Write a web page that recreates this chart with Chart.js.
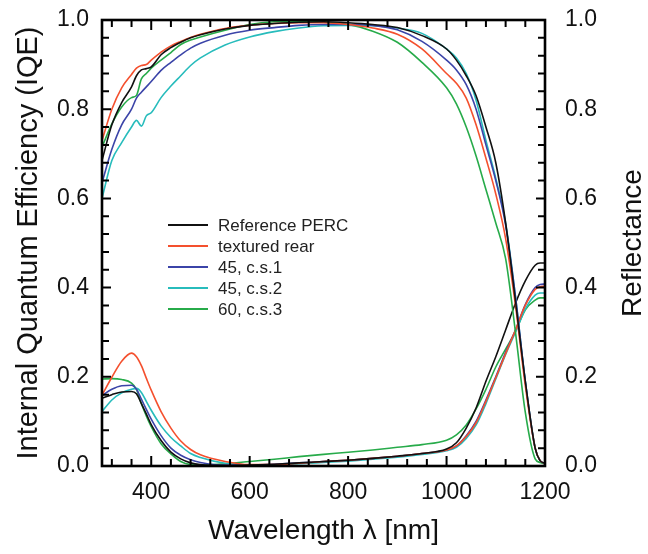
<!DOCTYPE html>
<html>
<head>
<meta charset="utf-8">
<script src="https://cdn.jsdelivr.net/npm/chart.js@4.4.1/dist/chart.umd.min.js"></script>
<style>
  html, body { margin: 0; padding: 0; background: #fff; }
  #wrap { width: 648px; height: 554px; }
</style>
</head>
<body>
<div id="wrap"><canvas id="iqeChart" width="648" height="554"></canvas></div>
<script>
// wavelength grid (nm)
const wavelength = [300,320,340,360,370,380,390,400,420,440,460,480,500,550,600,650,700,750,800,850,900,950,1000,1020,1040,1060,1080,1100,1120,1140,1160,1180,1190,1200];

const seriesNames = ["Reference PERC", "textured rear", "45, c.s.1", "45, c.s.2", "60, c.s.3"];
const seriesColors = ["#111111", "#f4502e", "#3b44a8", "#27bcbc", "#27ab4a"];

// internal quantum efficiency
const iqeRefPerc  = [0.685,0.765,0.815,0.85,0.875,0.888,0.891,0.895,0.922,0.938,0.95,0.96,0.967,0.98,0.988,0.992,0.995,0.996,0.994,0.99,0.983,0.965,0.935,0.91,0.875,0.83,0.76,0.68,0.545,0.37,0.19,0.04,0.012,0.006];
const iqeTextured = [0.73,0.8,0.848,0.878,0.892,0.898,0.9,0.91,0.928,0.942,0.952,0.961,0.968,0.981,0.988,0.992,0.994,0.994,0.99,0.982,0.968,0.935,0.88,0.858,0.825,0.765,0.69,0.61,0.51,0.36,0.18,0.04,0.012,0.006];
const iqe45cs1    = [0.635,0.71,0.765,0.8,0.825,0.838,0.85,0.862,0.887,0.905,0.922,0.937,0.948,0.966,0.977,0.983,0.988,0.99,0.99,0.988,0.978,0.952,0.91,0.888,0.855,0.8,0.72,0.64,0.54,0.38,0.19,0.04,0.012,0.006];
const iqe45cs2    = [0.6,0.685,0.725,0.76,0.775,0.762,0.785,0.792,0.826,0.852,0.875,0.898,0.915,0.944,0.962,0.974,0.982,0.987,0.988,0.987,0.982,0.97,0.935,0.915,0.88,0.82,0.73,0.645,0.545,0.38,0.19,0.04,0.012,0.006];
const iqe60cs3    = [0.715,0.767,0.805,0.826,0.831,0.868,0.88,0.892,0.91,0.927,0.945,0.955,0.962,0.977,0.99,0.996,0.997,0.995,0.99,0.975,0.95,0.905,0.848,0.812,0.76,0.695,0.62,0.545,0.465,0.3,0.12,0.016,0.008,0.005];

// reflectance
const refRefPerc  = [0.152,0.16,0.166,0.167,0.162,0.14,0.117,0.093,0.057,0.031,0.016,0.007,0.003,0.001,0.002,0.004,0.007,0.01,0.013,0.017,0.022,0.028,0.038,0.052,0.085,0.13,0.19,0.245,0.305,0.365,0.415,0.45,0.455,0.455];
const refTextured = [0.159,0.199,0.235,0.253,0.245,0.225,0.197,0.17,0.122,0.085,0.056,0.037,0.025,0.01,0.003,0.003,0.006,0.01,0.013,0.017,0.022,0.028,0.036,0.045,0.066,0.097,0.145,0.198,0.252,0.305,0.36,0.396,0.402,0.403];
const ref45cs1    = [0.158,0.172,0.18,0.181,0.172,0.15,0.127,0.105,0.068,0.04,0.024,0.014,0.008,0.002,0.002,0.004,0.007,0.01,0.013,0.017,0.022,0.028,0.036,0.045,0.068,0.1,0.148,0.2,0.255,0.305,0.362,0.4,0.407,0.408];
const ref45cs2    = [0.122,0.148,0.164,0.172,0.174,0.165,0.145,0.125,0.09,0.064,0.045,0.028,0.019,0.006,0.002,0.002,0.005,0.008,0.011,0.015,0.02,0.026,0.034,0.042,0.062,0.092,0.14,0.195,0.25,0.3,0.352,0.383,0.388,0.388];
const ref60cs3    = [0.195,0.196,0.194,0.186,0.172,0.14,0.112,0.088,0.05,0.027,0.01,0.003,0.002,0.005,0.01,0.015,0.021,0.026,0.031,0.036,0.042,0.048,0.058,0.07,0.092,0.128,0.172,0.222,0.262,0.302,0.35,0.372,0.377,0.377];

const xTickValues = [];
for (let v = 320; v <= 1200; v += 40) xTickValues.push(v);
const yTickValues = [];
for (let i = 0; i <= 25; i++) yTickValues.push(Math.round(i * 4) / 100);

const iqeSets = [iqeRefPerc, iqeTextured, iqe45cs1, iqe45cs2, iqe60cs3];
const refSets = [refRefPerc, refTextured, ref45cs1, ref45cs2, ref60cs3];

const toPoints = arr => wavelength.map((w, i) => ({ x: w, y: arr[i] }));

const datasets = [];
iqeSets.forEach((arr, i) => {
  datasets.push({
    label: seriesNames[i], data: toPoints(arr), yAxisID: "y",
    borderColor: seriesColors[i], borderWidth: 1.6, pointRadius: 0,
    cubicInterpolationMode: "monotone", fill: false
  });
});
refSets.forEach((arr, i) => {
  datasets.push({
    label: seriesNames[i] + " (R)", data: toPoints(arr), yAxisID: "y1",
    borderColor: seriesColors[i], borderWidth: 1.6, pointRadius: 0,
    cubicInterpolationMode: "monotone", fill: false
  });
});

const FONT = '"Liberation Sans", Arial, Helvetica, sans-serif';

// frame + inward ticks on all four sides
const frameTicks = {
  id: "frameTicks",
  afterDatasetsDraw(chart) {
    const { ctx, chartArea: a, scales } = chart;
    ctx.save();
    ctx.strokeStyle = "#000";
    ctx.lineWidth = 2;
    ctx.beginPath();
    scales.x.ticks.forEach(t => {
      const px = scales.x.getPixelForValue(t.value);
      const len = t.value % 200 === 0 ? 10 : 7;
      ctx.moveTo(px, a.bottom); ctx.lineTo(px, a.bottom - len);
      ctx.moveTo(px, a.top); ctx.lineTo(px, a.top + len);
    });
    scales.y.ticks.forEach((t, i) => {
      const py = scales.y.getPixelForValue(t.value);
      const len = i % 5 === 0 ? 9 : 7;
      ctx.moveTo(a.left, py); ctx.lineTo(a.left + len, py);
    });
    scales.y1.ticks.forEach((t, i) => {
      const py = scales.y1.getPixelForValue(t.value);
      const len = i % 5 === 0 ? 9 : 7;
      ctx.moveTo(a.right, py); ctx.lineTo(a.right - len, py);
    });
    ctx.stroke();
    ctx.lineWidth = 2.6;
    ctx.strokeRect(a.left, a.top, a.right - a.left, a.bottom - a.top);
    ctx.restore();
  }
};

// legend inside the plot, IQE series only
const insideLegend = {
  id: "insideLegend",
  afterDatasetsDraw(chart) {
    const { ctx, chartArea: a } = chart;
    const items = chart.data.datasets.filter(d => d.yAxisID === "y");
    ctx.save();
    ctx.font = "17px " + FONT;
    ctx.textBaseline = "middle";
    ctx.textAlign = "left";
    items.forEach((d, i) => {
      const x = a.left + 66;
      const y = a.top + 205 + i * 21;
      ctx.strokeStyle = d.borderColor;
      ctx.lineWidth = 2;
      ctx.beginPath();
      ctx.moveTo(x, y); ctx.lineTo(x + 40, y);
      ctx.stroke();
      ctx.fillStyle = "#222";
      ctx.fillText(d.label, x + 50, y + 1);
    });
    ctx.restore();
  }
};

// right axis title reads bottom-to-top like the left one
const rightTitle = {
  id: "rightTitle",
  afterDraw(chart) {
    const { ctx, chartArea: a } = chart;
    ctx.save();
    ctx.translate(633, (a.top + a.bottom) / 2);
    ctx.rotate(-Math.PI / 2);
    ctx.font = "28px " + FONT;
    ctx.fillStyle = "#111";
    ctx.textAlign = "center";
    ctx.textBaseline = "middle";
    ctx.fillText("Reflectance", 0, 0);
    ctx.restore();
  }
};

const fitVertical = w => s => { s.width = w; s.paddingTop = 0; s.paddingBottom = 0; };

new Chart(document.getElementById("iqeChart"), {
  type: "line",
  data: { datasets },
  options: {
    responsive: false,
    animation: false,
    layout: { padding: { top: 20, left: 0, right: 0, bottom: 0 } },
    plugins: { legend: { display: false }, tooltip: { enabled: false } },
    scales: {
      x: {
        type: "linear", min: 300, max: 1200,
        afterBuildTicks: s => { s.ticks = xTickValues.map(v => ({ value: v })); },
        afterFit: s => { s.height = 88; s.paddingLeft = 0; s.paddingRight = 0; },
        grid: { display: false, drawTicks: false },
        border: { display: false },
        ticks: {
          padding: 13, color: "#111", font: { size: 23, family: FONT }, maxRotation: 0, autoSkip: false,
          callback: v => (v % 200 === 0 ? String(v) : "")
        },
        title: { display: true, text: "Wavelength λ [nm]", color: "#111", font: { size: 28, family: FONT }, padding: { bottom: 6 } }
      },
      y: {
        type: "linear", position: "left", min: 0, max: 1,
        afterBuildTicks: s => { s.ticks = yTickValues.map(v => ({ value: v })); },
        afterFit: fitVertical(102),
        grid: { display: false, drawTicks: false },
        border: { display: false },
        ticks: {
          padding: 13, color: "#111", font: { size: 23, family: FONT }, autoSkip: false,
          callback: (v, i) => (i % 5 === 0 ? v.toFixed(1) : "")
        },
        title: { display: true, text: "Internal Quantum Efficiency (IQE)", color: "#111", font: { size: 29, family: FONT }, padding: { top: 12 } }
      },
      y1: {
        type: "linear", position: "right", min: 0, max: 1,
        afterBuildTicks: s => { s.ticks = yTickValues.map(v => ({ value: v })); },
        afterFit: fitVertical(103),
        grid: { display: false, drawTicks: false },
        border: { display: false },
        ticks: {
          padding: 20, color: "#111", font: { size: 23, family: FONT }, autoSkip: false,
          callback: (v, i) => (i % 5 === 0 ? v.toFixed(1) : "")
        }
      }
    }
  },
  plugins: [frameTicks, insideLegend, rightTitle]
});
</script>
</body>
</html>
